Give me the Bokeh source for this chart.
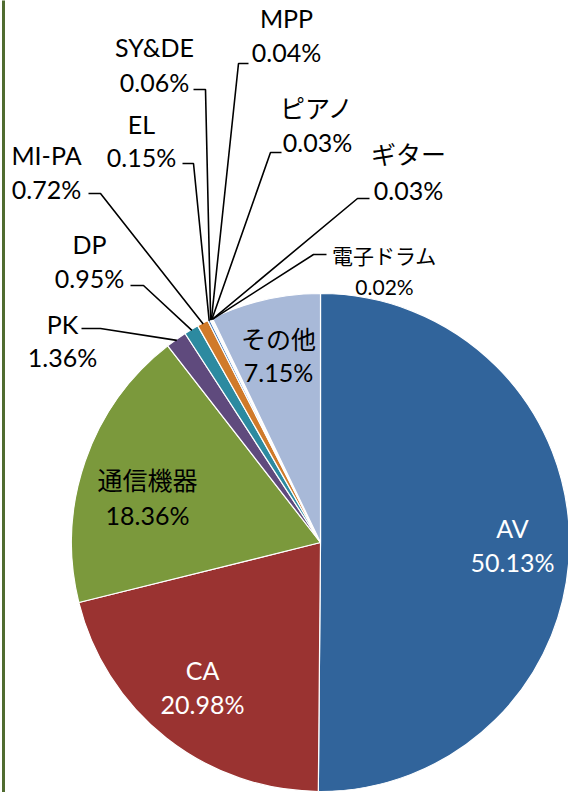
import numpy as np
from bokeh.plotting import figure
from bokeh.models import ColumnDataSource, Range1d
from bokeh.core.properties import value
from bokeh.embed import file_html
from bokeh.resources import INLINE

# ---------------- data ----------------
categories = ["AV", "CA", "通信機器", "PK", "DP", "MI-PA", "EL", "SY&DE",
              "MPP", "ピアノ", "ギター", "電子ドラム", "その他"]
shares = [50.13, 20.98, 18.36, 1.36, 0.95, 0.72, 0.15, 0.06,
          0.04, 0.03, 0.03, 0.02, 7.15]
pct_labels = [f"{v:.2f}%" for v in shares]

# ---------------- style / layout ----------------
colors = ["#31649B", "#9A3331", "#7B993C", "#5F4A7D", "#2C8AA0", "#D07A2A",
          "#4A7EBB", "#BE4B48", "#98B954", "#7D60A0", "#46AAC5", "#F69240",
          "#A8B9D8"]

FULL_H = 792
def fy(y):  # reference pixel row -> data y
    return FULL_H - y

CX, CY, R = 320, 542, 249

LAT = "Lato"
JP = "Noto Sans CJK JP"
# label layout: name -> (x, y_name, y_pct, name_font, name_size, pct_size, color)
label_layout = {
    "AV":     (512, 527, 561, LAT, 25, 25, "white"),
    "CA":     (202, 669, 703, LAT, 25, 25, "white"),
    "通信機器": (147, 478, 514, JP, 25, 25, "black"),
    "PK":     (62, 323, 356, LAT, 25, 25, "black"),
    "DP":     (89, 243, 277, LAT, 25, 25, "black"),
    "MI-PA":  (46, 154, 188, LAT, 25, 25, "black"),
    "EL":     (141, 123, 156, LAT, 25, 25, "black"),
    "SY&DE":  (154, 46, 81, LAT, 25, 25, "black"),
    "MPP":    (286, 17, 51, LAT, 25, 25, "black"),
    "ピアノ":   (317, 106, 141, JP, 25, 25, "black"),
    "ギター":   (408, 152, 189, JP, 25, 25, "black"),
    "電子ドラム": (384, 254, 286, JP, 21, 21, "black"),
    "その他":   (278, 337, 371, JP, 25, 25, "black"),
}
# leader lines: name -> (anchor near label, elbow)
leaders = {
    "PK":    ((81, 328), (100, 328)),
    "DP":    ((130, 285), (143, 285)),
    "MI-PA": ((88, 193), (100, 193)),
    "EL":    ((182, 163), (193, 163)),
    "SY&DE": ((193, 89), (205, 89)),
    "MPP":   ((248, 63), (238, 63)),
    "ピアノ":  ((281, 152), (270, 152)),
    "ギター":  ((369, 198), (357, 198)),
    "電子ドラム": ((326, 254), (313, 254)),
}

# ---------------- geometry from data ----------------
vals = np.array(shares, dtype=float)
frac = vals / vals.sum()
cum = np.concatenate([[0.0], np.cumsum(frac)])
start = np.pi / 2 - 2 * np.pi * cum[:-1]
end = np.pi / 2 - 2 * np.pi * cum[1:]
mid = (start + end) / 2

src = ColumnDataSource(dict(cat=categories, start=start, end=end, color=colors))

p = figure(width=568, height=792, output_backend="svg", toolbar_location=None,
           x_range=Range1d(0, 568), y_range=Range1d(0, 792), min_border=0)
p.axis.visible = False
p.grid.visible = False
p.outline_line_color = None
p.background_fill_color = "white"
p.border_fill_color = "white"

# left chart border
p.line([3, 3], [fy(-10), fy(800)], line_color="#506C30", line_width=3)

p.wedge(x=CX, y=fy(CY), radius=R, start_angle="start", end_angle="end",
        direction="clock", fill_color="color", line_color="white",
        line_width=1.2, source=src)

# leader lines
for i, cat in enumerate(categories):
    if cat in leaders:
        (ax, ay), (ex, ey) = leaders[cat]
        px = CX + (R - 1) * np.cos(mid[i])
        py = fy(CY) + (R - 1) * np.sin(mid[i])
        p.line([ax, ex, px], [fy(ay), fy(ey), py], line_color="black", line_width=1.6)

# labels
for i, cat in enumerate(categories):
    x, yn, yp, font, ns, ps, col = label_layout[cat]
    p.text(x=[x], y=[fy(yn)], text=[cat], text_font=value(font),
           text_font_size=f"{ns}px", text_color=col, text_align="center",
           text_baseline="middle")
    p.text(x=[x], y=[fy(yp)], text=[pct_labels[i]], text_font=value(LAT),
           text_font_size=f"{ps}px", text_color=col, text_align="center",
           text_baseline="middle")

open("out.html", "w").write(file_html(p, INLINE))
